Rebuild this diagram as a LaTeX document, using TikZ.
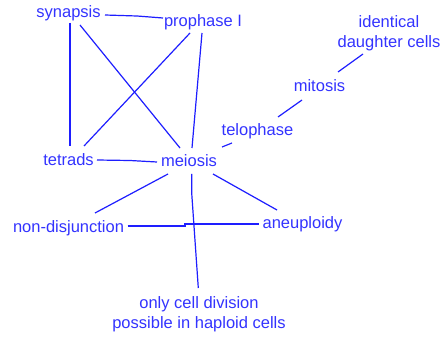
\documentclass[tikz,border=0pt]{standalone}
\usepackage{fontspec}
\setmainfont{Liberation Sans}
\usetikzlibrary{calc}
\definecolor{txtblue}{RGB}{51,51,255}
\definecolor{lineblue}{RGB}{30,30,255}
\begin{document}
\begin{tikzpicture}[x=1pt,y=-1pt,
  concept/.style={text=txtblue,inner sep=0pt,align=center,font=\fontsize{16.5}{20}\selectfont},
  link/.style={draw=lineblue,line width=1.2pt}]
\useasboundingbox[fill=white] (0,0) rectangle (440,337);
\node[concept,anchor=base] (syn) at (68.5,18) {synapsis};
\node[concept,anchor=base] (pro) at (203,27) {prophase I};
\node[concept,anchor=base] (tet) at (68.5,166) {tetrads};
\node[concept,anchor=base] (mei) at (189,166.5) {meiosis};
\node[concept,anchor=base] (tel) at (257.5,136) {telophase};
\node[concept,anchor=base] (mit) at (319.5,92) {mitosis};
\node[concept,anchor=center] (idc) at (389,32.75) {identical\\daughter cells};
\node[concept,anchor=base] (non) at (68.5,232.7) {non-disjunction};
\node[concept,anchor=base] (ane) at (302.5,229) {aneuploidy};
\node[concept,anchor=center] (only) at (199,314) {only cell division\\possible in haploid cells};
% connectors
\draw[link] ($(syn.base)+(36.5,-3)$) -- ($(syn.base)+(68.5,-2)$) -- ($(pro.base)+(-40,-9)$);
\draw[link] ($(syn.base)+(1.5,5)$) -- ($(tet.base)+(1.5,-20)$);
\draw[link] ($(syn.base)+(11.5,7)$) -- ($(mei.base)+(-9,-18.5)$);
\draw[link] ($(pro.base)+(-13,6)$) -- ($(tet.base)+(15.5,-20)$);
\draw[link] ($(pro.base)+(-1,6)$) -- ($(mei.base)+(3,-18.5)$);
\draw[link] ($(tet.base)+(28.5,-6)$) -- ($(tet.base)+(61.5,-5.5)$) -- ($(mei.base)+(-32,-4.5)$);
\draw[link] ($(mei.base)+(33,-19.5)$) -- ($(tel.base)+(-25.5,7)$);
\draw[link] ($(tel.base)+(20.5,-19)$) -- ($(mit.base)+(-17.5,8)$);
\draw[link] ($(mit.base)+(18.5,-20)$) -- ($(idc.center)+(-26,21.25)$);
\draw[link] ($(mei.base)+(-21,7.5)$) -- ($(non.base)+(26.5,-19.7)$);
\draw[link] ($(mei.base)+(24,7.5)$) -- ($(ane.base)+(-25.5,-19)$);
\draw[link] ($(mei.base)+(2.7,7.5)$) -- ($(mei.base)+(2.7,26.5)$) -- ($(only.center)+(-0.7,-26)$);
\draw[link] ($(non.base)+(59.2,-6.7)$) -- ($(non.base)+(116.5,-6.7)$) -- ($(ane.base)+(-117.5,-5)$) -- ($(ane.base)+(-43.2,-5)$);
\end{tikzpicture}
\end{document}
